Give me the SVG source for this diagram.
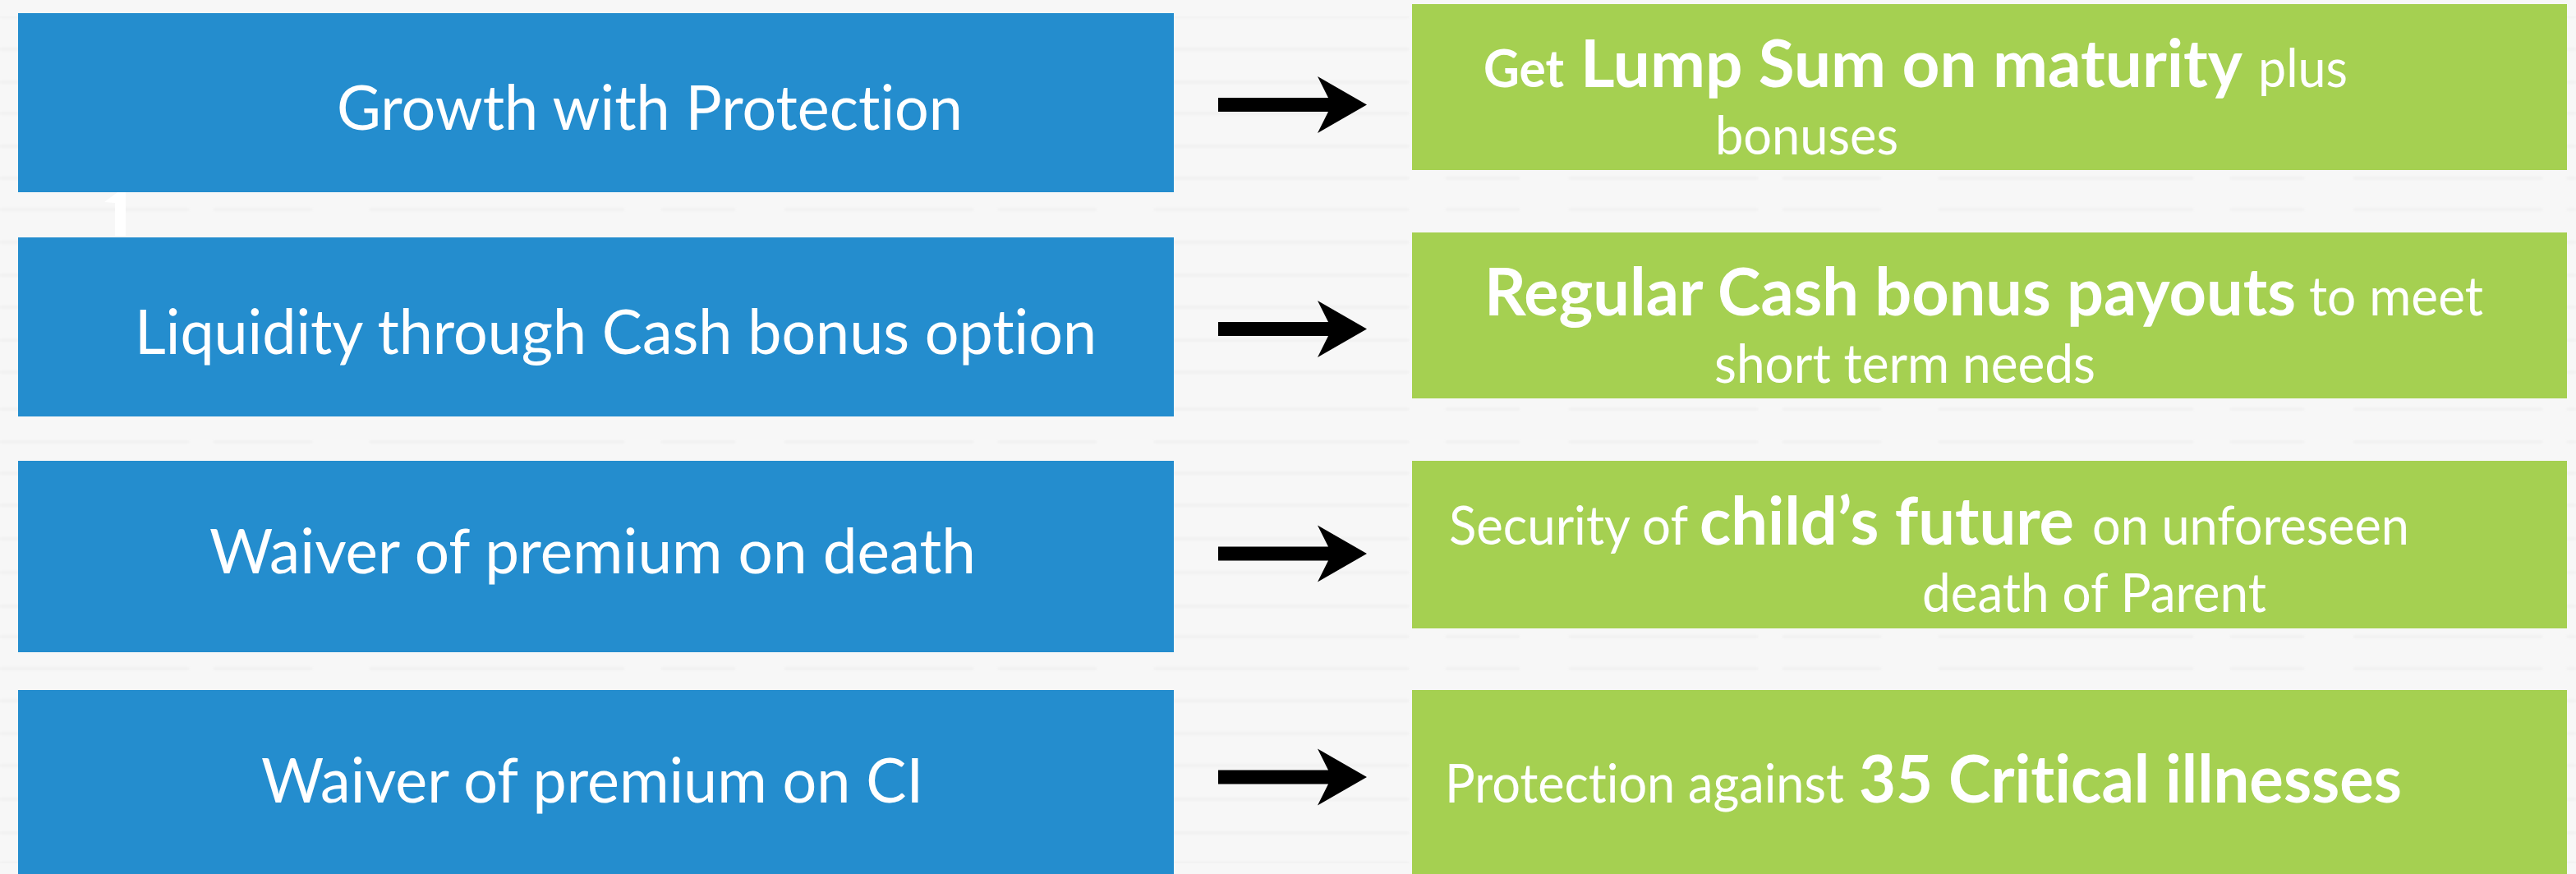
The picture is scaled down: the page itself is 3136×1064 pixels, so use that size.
<svg xmlns="http://www.w3.org/2000/svg" width="3136" height="1064" viewBox="0 0 3136 1064">
<style>
text{font-family:"Lato","Open Sans",sans-serif;fill:#fff;font-variant-ligatures:none}
.l{font-size:76px}
.s{font-size:65px}
.b{font-size:80px;font-weight:700}
.g{font-size:63px;font-weight:700}
.blue{fill:#248dce}
.green{fill:#a5d051}
.tex{stroke:#efefef;stroke-width:3;stroke-dasharray:230 30 120 70 310 45 90 60;fill:none}
</style>
<defs>
<polygon id="arrow" points="0,-8.500 134,-8.500 121,-34.500 181,0 121,34.500 134,8.500 0,8.500"/>
<filter id="soft" x="0" y="0" width="100%" height="100%"><feGaussianBlur stdDeviation="1.500"/></filter>
</defs>
<rect width="3136" height="1064" fill="#f7f7f7"/>
<path class="tex" filter="url(#soft)" d="M0 20H3136M0 60H3136M0 100H3136M0 138H3136M0 178H3136M0 217H3136M0 255H3136M0 295H3136M0 335H3136M0 374H3136M0 414H3136M0 453H3136M0 498H3136M0 538H3136M0 576H3136M0 615H3136M0 656H3136M0 697H3136M0 738H3136M0 775H3136M0 814H3136M0 853H3136M0 893H3136M0 932H3136M0 973H3136M0 1014H3136M0 1051H3136"/>
<polygon points="127,246 143,234 153,234 153,287 140,287 140,247" fill="#fff"/>
<g id="connectors">
<use href="#arrow" x="1483" y="127.500"/>
<use href="#arrow" x="1483" y="400.500"/>
<use href="#arrow" x="1483" y="674"/>
<use href="#arrow" x="1483" y="946"/>
</g>
<g id="node-growth"><rect class="blue" x="22" y="16" width="1407" height="218"/><text class="l" x="410" y="158" textLength="762" lengthAdjust="spacingAndGlyphs">Growth with Protection</text></g>
<g id="node-liquidity"><rect class="blue" x="22" y="289" width="1407" height="218"/><text class="l" x="164" y="431" textLength="1171" lengthAdjust="spacingAndGlyphs">Liquidity through Cash bonus option</text></g>
<g id="node-waiver-death"><rect class="blue" x="22" y="561" width="1407" height="233"/><text class="l" x="255" y="698" textLength="933" lengthAdjust="spacingAndGlyphs">Waiver of premium on death</text></g>
<g id="node-waiver-ci"><rect class="blue" x="22" y="840" width="1407" height="224"/><text class="l" x="318" y="977" textLength="806" lengthAdjust="spacingAndGlyphs">Waiver of premium on CI</text></g>
<g id="node-lumpsum"><rect class="green" x="1719" y="5" width="1406" height="202"/>
<text class="g" x="1806" y="106" textLength="98" lengthAdjust="spacingAndGlyphs">Get</text>
<text class="b" x="1924" y="106" textLength="806" lengthAdjust="spacingAndGlyphs">Lump Sum on maturity</text>
<text class="s" x="2749" y="106" textLength="109" lengthAdjust="spacingAndGlyphs">plus</text>
<text class="s" x="2088" y="188" textLength="223" lengthAdjust="spacingAndGlyphs">bonuses</text></g>
<g id="node-cash"><rect class="green" x="1719" y="283" width="1406" height="202"/>
<text class="b" x="1807" y="384" textLength="988" lengthAdjust="spacingAndGlyphs">Regular Cash bonus payouts</text>
<text class="s" x="2811" y="384" textLength="212" lengthAdjust="spacingAndGlyphs">to meet</text>
<text class="s" x="2087" y="466" textLength="464" lengthAdjust="spacingAndGlyphs">short term needs</text></g>
<g id="node-security"><rect class="green" x="1719" y="561" width="1406" height="204"/>
<text class="s" x="1764" y="663" textLength="291" lengthAdjust="spacingAndGlyphs">Security of</text>
<text class="b" x="2069" y="663" textLength="456" lengthAdjust="spacingAndGlyphs">child’s future</text>
<text class="s" x="2547" y="663" textLength="386" lengthAdjust="spacingAndGlyphs">on unforeseen</text>
<text class="s" x="2340" y="745" textLength="419" lengthAdjust="spacingAndGlyphs">death of Parent</text></g>
<g id="node-illness"><rect class="green" x="1719" y="840" width="1406" height="224"/>
<text class="s" x="1759" y="977" textLength="486" lengthAdjust="spacingAndGlyphs">Protection against</text>
<text class="b" x="2263" y="977" textLength="661" lengthAdjust="spacingAndGlyphs">35 Critical illnesses</text></g>
</svg>
